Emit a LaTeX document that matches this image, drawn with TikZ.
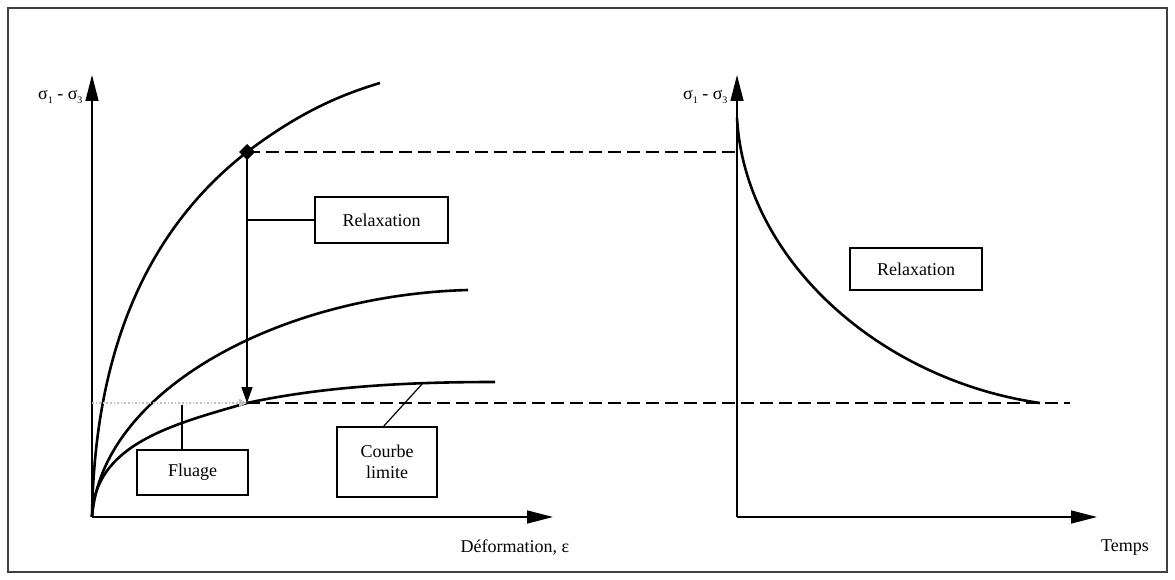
\documentclass[tikz,border=0pt]{standalone}
\usepackage{fontspec}
\setmainfont{Liberation Serif}
\usetikzlibrary{arrows.meta}

\newcommand{\sigdiff}{σ\raisebox{-0.4ex}{\fontsize{10}{10}\selectfont 1} - σ\raisebox{-0.4ex}{\fontsize{10}{10}\selectfont 3}}

\begin{document}
\begin{tikzpicture}[x=1pt,y=-1pt,
    axis/.style = {line width=1.4pt, -{Triangle[length=26pt,width=13pt]}},
    curve/.style = {line width=2.6pt},
    guide/.style = {line width=1.5pt, dash pattern=on 13pt off 6pt},
    lead/.style = {line width=1.2pt},
    labelbox/.style = {draw, line width=1.3pt, inner sep=0pt, align=center,
                       font=\fontsize{18}{21}\selectfont},
    txt/.style = {font=\fontsize{18}{21}\selectfont}]
    \useasboundingbox (0,0) rectangle (1175,580);
    \draw[line width=1.6pt, black!75] (8,8) rectangle (1167,572);

    % left graph: stress vs strain
    \coordinate (O1) at (92,517);
    \coordinate (Y1) at (92,75);
    \coordinate (X1) at (553,517);
    \draw[axis] (O1) -- (Y1);
    \draw[axis] (O1) -- (X1);
    \node[txt, anchor=east] (sig1) at (86,97) {\sigdiff};
    \node[txt] (eps) at (515,548) {Déformation, ε};

    % right graph: stress vs time
    \coordinate (O2) at (737,517);
    \coordinate (Y2) at (737,75);
    \coordinate (X2) at (1097,517);
    \draw[axis] (O2) -- (Y2);
    \draw[axis] (O2) -- (X2);
    \node[txt, anchor=east] (sig2) at (731,97) {\sigdiff};
    \node[txt] (temps) at (1125,548) {Temps};

    % curves
    \coordinate (top) at (247,152);
    \coordinate (low) at (247,403);
    \draw[curve] (O1) .. controls (95,330) and (160,220) .. (top)
                      .. controls (300,112) and (340,95) .. (380,83);
    \draw[curve] (O1) .. controls (102,390) and (280,295) .. (468,290);
    \draw[curve] (O1) .. controls (94,445) and (170,425) .. (low)
                      .. controls (330,385) and (420,382) .. (495,382);
    \coordinate (R0) at (737,118);
    \coordinate (R1) at (1040,403);
    \draw[curve] (R0) .. controls (745,260) and (880,380) .. (R1);

    % guides
    \fill (top) ++(0,-8) -- ++(8,8) -- ++(-8,8) -- ++(-8,-8) -- cycle;
    \draw[guide] (top) -- (top -| O2);
    \draw[guide] (low) -- (1070,403);
    \draw[line width=1.4pt, -{Triangle[length=16pt,width=11pt]}] (top) -- (low);
    \draw[line width=1.6pt, black!25, dotted, -{Triangle[length=8pt,width=8pt]}]
        (low -| O1) -- (low);

    % boxes
    \node[labelbox, minimum width=133pt, minimum height=46pt] (relax) at (381.5,220) {Relaxation};
    \node[labelbox, minimum width=132pt, minimum height=42pt] (relax2) at (916,269) {Relaxation};
    \node[labelbox, minimum width=111pt, minimum height=45pt] (fluage) at (192.5,472.5) {Fluage};
    \node[labelbox, minimum width=100pt, minimum height=70pt] (courbe) at (387,462) {Courbe\\limite};

    \coordinate (rk) at (247,220);
    \coordinate (fk) at (182,405);
    \coordinate (ck) at (423,383);
    \draw[lead] (rk) -- (relax.west);
    \draw[lead] (fk) -- (fk |- fluage.north);
    \draw[lead] (ck) -- (383,427);
\end{tikzpicture}
\end{document}
